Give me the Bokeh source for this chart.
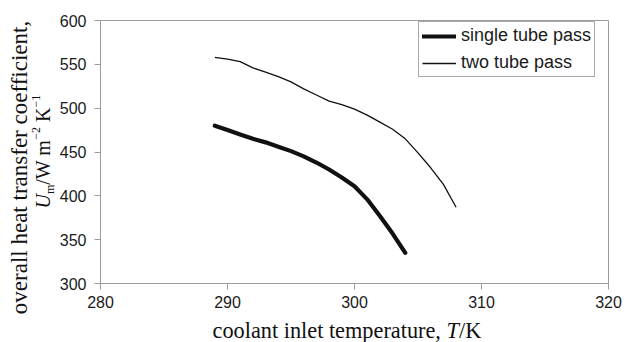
from bokeh.plotting import figure
from bokeh.models import Range1d, Legend, LegendItem, FixedTicker
from bokeh.layouts import row, column
from bokeh.core.properties import value
from bokeh.embed import file_html
from bokeh.resources import INLINE
import math

# ---- data ----
t_single = [289, 290, 291, 292, 293, 294, 295, 296, 297, 298, 299, 300, 301, 302, 303, 304]
u_single = [480, 475, 470, 465, 461, 456, 451, 445, 438, 430, 421, 411, 396, 377, 357, 335]

t_two = [289, 290, 291, 292, 293, 294, 295, 296, 297, 298, 299, 300, 301, 302, 303, 304,
         305, 306, 307, 308]
u_two = [558, 556, 553, 546, 541, 536, 530, 522, 515, 508, 504, 499, 492, 484, 476, 465,
         449, 432, 413, 387]

x_ticks = [280, 290, 300, 310, 320]
y_ticks = [300, 350, 400, 450, 500, 550, 600]
series_names = ["single tube pass", "two tube pass"]

# ---- layout ----
W, H = 626, 342
YL_W = 56          # strip holding the y-axis title
XL_H = 28          # strip holding the x-axis title
MW, MH = W - YL_W, H - XL_H
L, R, T, B = 100 - YL_W, 18, 20, MH - 283

GRAY = "#9c9c9c"
INK = "#111111"
SERIF = "Liberation Serif"

p = figure(width=MW, height=MH, output_backend="svg", toolbar_location=None,
           x_range=Range1d(280, 320), y_range=Range1d(300, 600), title_location=None,
           frame_width=MW - L - R, frame_height=MH - T - B, frame_align=False,
           min_border_left=L, min_border_right=R, min_border_top=T, min_border_bottom=B)
p.background_fill_color = "white"
p.border_fill_color = "white"
p.outline_line_color = GRAY
p.outline_line_width = 1
p.xgrid.visible = False
p.ygrid.visible = False

for ax in (p.xaxis[0], p.yaxis[0]):
    ax.axis_line_color = GRAY
    ax.major_tick_line_color = GRAY
    ax.major_tick_out = 6
    ax.major_tick_in = 0
    ax.minor_tick_line_color = None
    ax.major_label_text_font = "Liberation Sans"
    ax.major_label_text_font_size = "16px"
    ax.major_label_text_color = "#1a1a1a"
    ax.axis_label = None
p.yaxis[0].major_label_standoff = 8
p.xaxis[0].major_label_standoff = 6
p.xaxis[0].ticker = FixedTicker(ticks=x_ticks)
p.yaxis[0].ticker = FixedTicker(ticks=y_ticks)

r1 = p.line(t_single, u_single, line_color=INK, line_width=4.2, line_join="round", line_cap="round")
r2 = p.line(t_two, u_two, line_color=INK, line_width=1.3, line_join="round")

legend = Legend(items=[LegendItem(label=series_names[0], renderers=[r1]),
                       LegendItem(label=series_names[1], renderers=[r2])],
                location=(418 - 100, 283 - 77), orientation="vertical")
legend.margin = 0
legend.padding = 3
legend.spacing = 6
legend.glyph_width = 34
legend.glyph_height = 20
legend.label_height = 20
legend.label_standoff = 5
legend.label_text_font = "Liberation Sans"
legend.label_text_font_size = "18px"
legend.label_text_color = "#1a1a1a"
legend.border_line_color = "#555555"
legend.border_line_width = 1
legend.background_fill_color = "white"
legend.background_fill_alpha = 1
p.add_layout(legend, "center")

# Times-like advance widths (per em) for composing mixed-style titles
ADV = {"c": .444, "o": .5, "l": .278, "a": .444, "n": .5, "t": .278, " ": .25, "i": .278,
       "e": .444, "m": .778, "p": .5, "r": .333, "u": .5, ",": .25, "/": .278, "W": .944,
       "K": .722, "\u2212": .564, "1": .5, "2": .5, "U": .722, "T": .556}
DESC = 0.25   # observed downward offset of the rendered baseline, in em

def text_fig(w, h, x0, x1, y0, y1):
    f = figure(width=w, height=h, frame_width=w, frame_height=h, frame_align=False,
               output_backend="svg", toolbar_location=None, title_location=None,
               x_range=Range1d(x0, x1), y_range=Range1d(y0, y1),
               x_axis_location=None, y_axis_location=None, min_border=0)
    f.xgrid.visible = False
    f.ygrid.visible = False
    f.outline_line_color = None
    f.background_fill_color = "white"
    f.border_fill_color = "white"
    return f

def put(f, x, y, txt, size, style="normal", angle=0.0, align="left"):
    f.text(x=[x], y=[y], text=[txt], angle=angle, text_font=value(SERIF),
           text_font_size=value(f"{size}px"), text_font_style=value(style),
           text_align=value(align), text_baseline=value("alphabetic"), text_color=INK)

def width(txt, size):
    return sum(ADV.get(ch, .5) for ch in txt) * size

def compose(f, pieces, pen, base, direction, angle, top):
    """Place pieces one after another; pen runs along x (direction +1) or upward (-1)."""
    for txt, size, style, shift in pieces:
        lead = len(txt) - len(txt.lstrip(" "))
        pen += direction * width(" " * lead, size)
        core = txt.strip(" ")
        fix = DESC * size
        if direction > 0:
            put(f, pen, base - shift + fix, core, size, style=style, angle=angle)
        else:
            put(f, base + shift - fix, top - pen, core, size, style=style, angle=angle)
        pen += direction * width(core, size)

# ---- y-axis title strip (window-pixel coordinates, y measured upward from strip bottom) ----
yf = text_fig(YL_W, MH, 0, YL_W, 0, MH)
A = math.pi / 2
put(yf, 25 - DESC * 23, MH - 167, "overall heat transfer coefficient,", 23, angle=A, align="center")
pieces_y = [("U", 20, "italic", 0), ("m", 12, "normal", 5), ("/W m", 20, "normal", 0),
            ("\u22122", 12, "normal", -9), (" K", 20, "normal", 0), ("\u22121", 12, "normal", -9)]
compose(yf, pieces_y, 208, 47, -1, A, MH)

# ---- x-axis title strip (full width) ----
xf = text_fig(W, XL_H, 0, W, 0, XL_H)
pieces_x = [("coolant inlet temperature,", 22.3, "normal", 0), (" T", 22.3, "italic", 0),
            ("/K", 22.3, "normal", 0)]
compose(xf, pieces_x, 212, H - 335.5, 1, 0.0, XL_H)

layout = column(row(yf, p, spacing=0), xf, spacing=0)
open("out.html", "w").write(file_html(layout, INLINE))
